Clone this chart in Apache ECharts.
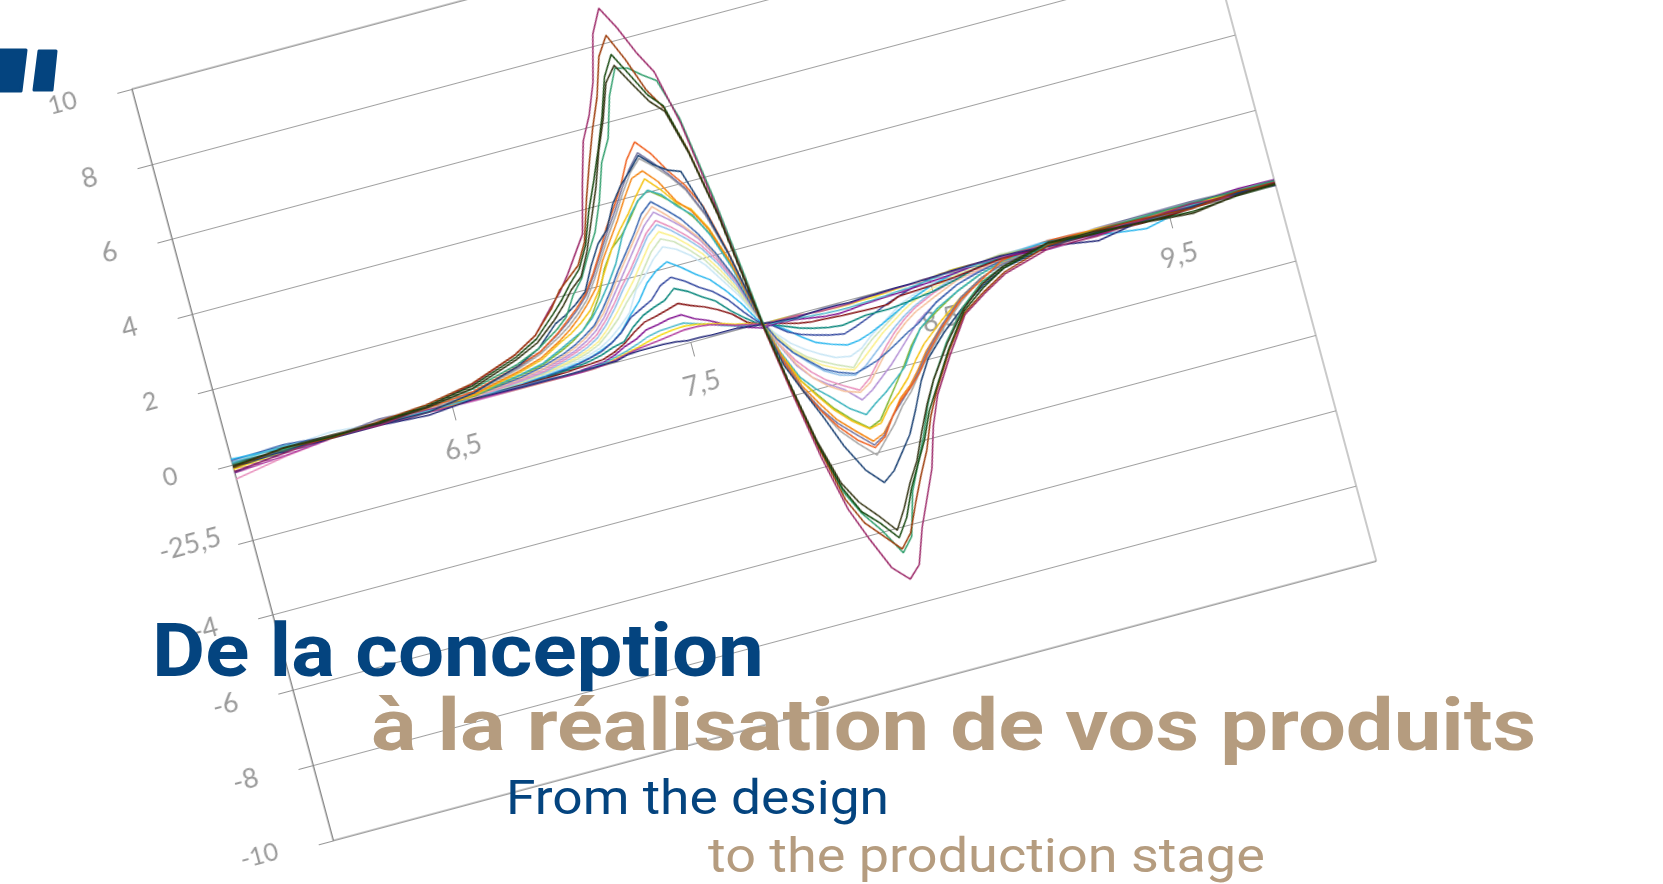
<!DOCTYPE html>
<html>
<head>
<meta charset="utf-8">
<title>De la conception à la réalisation</title>
<script src="https://cdn.jsdelivr.net/npm/echarts@6/dist/echarts.min.js"></script>
<style>
  html, body { margin: 0; width: 1663px; height: 884px; overflow: hidden; background: #fff; }
  #plot { position: absolute; left: 94px; top: -184px; width: 1320px; height: 1018px; transform: rotate(-15deg); }
  #words { position: absolute; left: 0; top: 0; width: 1663px; height: 884px; }
</style>
</head>
<body>
<div id="plot"></div>
<div id="words"></div>
<script>
const xValues = [5.58,5.8,6.0,6.2,6.4, 6.6,6.8,6.9,6.99,7.04, 7.09,7.14,7.19,7.24,7.29, 7.34,7.39,7.44,7.49,7.54, 7.59,7.64,7.69,7.74,7.78, 7.80,7.84,7.89,7.94,7.99, 8.05,8.11,8.16,8.21,8.26, 8.31,8.36,8.41,8.5,8.6, 8.7,8.8,9.0,9.2,9.4, 9.6,9.8,9.95]

const xTicks = [6.5, 7.5, 8.5, 9.5]
const yTicks = [-10, -8, -6, -4, -2, 0, 2, 4, 6, 8, 10]
const yTickLabels = ['-10', '-8', '-6', '-4', '-25,5', '0', '2', '4', '6', '8', '10']
const smallTickLabels = ['-10', '0', '2', '10']

const s01 = [-.18,-.06,.05,.0,.14, .4,.85,1.2,1.8,2.1, 2.5,2.95,3.4,4.6,5.7, 6.3,7.1,8.3,8.9,8.3, 7.55,6.95,5.5,3.2,1.05, -.15,-1.85,-3.75,-5.2,-6.05, -6.95,-7.35,-7.05,-6.15,-5.45, -4.75,-3.7,-2.95,-2.05,-1.15, -.75,-.4,-.05,-.08,.02, .1,.0,.08]
const s02 = [-.08,.08,.0,.1,.2, .42,.85,1.2,1.75,2.15, 2.4,2.65,3.2,4.2,5.1, 5.95,6.7,7.7,8.18,7.45, 6.55,6.0,4.8,3.0,1.0, -.1,-1.7,-3.5,-4.95,-5.65, -6.1,-6.55,-6.2,-5.5,-4.85, -4.25,-3.45,-2.85,-1.95,-1.1, -.7,-.35,.02,.08,.05, -.02,.1,.05]
const s03 = [-.05,.08,.03,.08,.16, .36,.78,1.1,1.6,1.9, 2.25,2.55,3.1,3.95,4.65, 5.4,6.2,7.15,7.67,7.05, 6.42,6.05,4.75,3.0,.95, -.06,-1.6,-3.4,-4.65,-5.35, -5.75,-6.25,-5.8,-5.1,-4.55, -4.0,-3.3,-2.8,-1.9,-1.05, -.6,-.25,.08,.0,-.03, -.1,.0,.02]
const s04 = [-.03,.08,.08,.05,.12, .3,.72,1.0,1.45,1.75, 2.1,2.35,2.95,3.7,4.45, 5.35,6.1,7.0,7.38,6.8, 6.25,5.9,4.7,2.95,.95, -.03,-1.6,-3.3,-4.5,-5.1, -5.55,-6.05,-5.55,-4.95,-4.45, -3.75,-3.1,-2.55,-1.75,-1.0, -.5,-.2,.1,.05,-.05, -.15,.02,.05]
const s05 = [.0,.04,.05,.08,.12, .28,.6,.85,1.2,1.45, 1.95,2.3,2.85,3.35,4.1, 5.05,5.6,6.65,7.3,7.22, 6.95,6.72,5.65,3.45,1.3, .12,-1.6,-3.45,-4.75,-5.4, -5.95,-6.65,-6.3,-5.2,-4.55, -3.9,-3.15,-2.55,-1.7,-.95, -.45,-.2,.03,.08,.1, .12,.12,.12]
const s06 = [.02,.03,.05,.08,.1, .22,.55,.75,1.1,1.35, 1.6,1.9,2.35,2.85,3.4, 3.85,4.35,4.95,5.34,4.95, 4.4,3.95,3.3,2.0,.65, -.08,-1.1,-2.0,-2.6,-3.1, -3.55,-3.85,-3.65,-3.2,-2.85, -2.6,-2.3,-1.9,-1.3,-.75, -.4,-.05,.14,.1,.08, .1,.08,.08]
const s07 = [.03,.03,.02,.16,.1, .22,.52,.75,1.08,1.3, 1.55,1.85,2.3,2.8,3.3, 3.75,4.25,4.7,5.05,4.7, 4.3,3.85,3.1,1.95,.6, -.04,-1.05,-1.95,-2.55,-3.0, -3.4,-3.78,-3.6,-3.2,-2.9, -2.6,-2.25,-1.85,-1.25,-.7, -.35,-.15,.05,.12,.14, .16,.12,.05]
const s08 = [-.08,.0,.03,.03,.0, .18,.55,.85,1.35,1.5, 1.7,1.95,2.55,3.05,3.35, 3.95,4.35,4.65,4.98,4.65, 4.42,4.3,3.25,1.95,.7, -.02,-1.2,-2.0,-2.75,-3.6, -4.35,-4.78,-4.55,-4.15,-3.75, -3.15,-2.5,-2.0,-1.45,-.95, -.55,-.25,.0,.02,.0, .02,.05,.02]
const s09 = [.0,.02,.03,.03,.05, .18,.48,.7,1.0,1.2, 1.45,1.75,2.2,2.7,3.2, 3.65,4.15,4.6,4.9,4.6, 4.25,3.8,3.05,1.9,.6, -.02,-1.05,-1.95,-2.6,-3.2, -3.65,-4.05,-3.72,-3.4,-3.0, -2.7,-2.3,-1.95,-1.35,-.8, -.35,-.12,.05,.05,.05, .08,.05,.05]
const s10 = [.02,.03,.02,.03,.05, .15,.42,.6,.9,1.1, 1.35,1.65,2.0,2.6,3.05, 3.5,4.0,4.45,4.57,4.2, 3.6,3.25,2.65,1.7,.55, .0,-.95,-1.85,-2.4,-2.9, -3.3,-3.68,-3.55,-3.2,-2.8, -2.55,-2.2,-1.8,-1.25,-.75, -.35,-.12,.05,.05,.08, .08,.05,.08]
const s11 = [-.12,.0,.02,.03,.03, .12,.38,.55,.85,1.0, 1.2,1.45,1.85,2.35,2.85, 3.25,3.6,4.0,4.36,4.0, 3.55,3.3,2.7,1.7,.55, .02,-.9,-1.7,-2.2,-2.65, -3.05,-3.35,-3.28,-2.9,-2.65, -2.35,-1.95,-1.6,-1.15,-.7, -.35,-.12,.03,.0,.08, .05,.03,.05]
const s12 = [.03,.03,.03,.03,.03, .12,.32,.45,.7,.85, 1.0,1.25,1.6,2.0,2.45, 3.05,3.5,3.85,4.05,3.85, 3.45,3.15,2.5,1.55,.5, .03,-.85,-1.6,-2.0,-2.3, -2.7,-2.97,-2.75,-2.55,-2.3, -2.05,-1.6,-1.2,-.8,-.5, -.25,-.08,.05,.05,.05, .05,.05,.05]
const s13 = [.02,.02,.02,.03,.03, .1,.3,.42,.65,.8, 1.0,1.3,1.75,2.4,2.85, 3.1,3.45,3.85,4.05,3.8, 3.5,3.1,2.55,1.65,.55, .0,-.9,-1.7,-2.15,-2.6, -3.0,-3.33,-3.2,-2.8,-2.4, -2.0,-1.55,-1.2,-.85,-.5, -.25,-.08,.05,.03,.03, .05,.03,.05]
const s14 = [.1,.16,.05,.03,.03, .1,.25,.38,.55,.68, .85,1.05,1.4,1.8,2.25, 2.65,3.05,3.5,3.75,3.45, 3.12,2.65,2.05,1.3,.42, .04,-.5,-.95,-1.25,-1.55, -1.75,-1.88,-1.8,-1.7,-1.55, -1.38,-1.2,-1.05,-.65,-.35, -.18,-.05,.05,.05,.05, .08,.05,.05]
const s15 = [.02,.02,.02,.02,.03, .08,.22,.32,.5,.62, .78,1.0,1.3,1.72,2.15, 2.55,2.95,3.35,3.62,3.3, 2.95,2.55,2.0,1.3,.42, .02,-.6,-1.25,-1.7,-2.0, -2.25,-2.38,-2.2,-1.85,-1.5, -1.2,-.95,-.75,-.5,-.25, -.12,-.02,.05,.05,.05, .05,.05,.05]
const s16 = [.02,.02,.02,.02,.02, .08,.2,.3,.45,.55, .7,.9,1.2,1.6,2.0, 2.4,2.8,3.2,3.47,3.2, 2.9,2.5,1.95,1.25,.4, .0,-.65,-1.3,-1.7,-1.95, -2.2,-2.58,-2.4,-2.15,-1.9, -1.6,-1.3,-1.0,-.65,-.35, -.15,-.03,.05,.05,.05, .05,.05,.05]
const s17 = [-.38,-.14,.0,.02,.02, .06,.17,.25,.4,.5, .62,.8,1.1,1.45,1.85, 2.2,2.6,3.0,3.25,3.0, 2.7,2.35,1.85,1.2,.38, .03,-.6,-1.15,-1.55,-1.85, -2.1,-2.32,-2.1,-1.75,-1.4, -1.1,-.85,-.65,-.4,-.2, -.08,.0,.05,.05,.05, .05,.05,.05]
const s18 = [.02,.02,.02,.02,.02, .05,.15,.22,.35,.43, .55,.72,1.0,1.35,1.75, 2.1,2.5,2.9,3.14,2.9, 2.6,2.25,1.75,1.1,.35, .05,-.5,-.95,-1.3,-1.6, -1.82,-1.92,-1.75,-1.5,-1.25, -1.0,-.78,-.6,-.35,-.15, -.05,.08,.14,.1,.08, .05,.05,.05]
const s19 = [.02,.02,.02,.02,.02, .05,.13,.2,.3,.38, .48,.62,.88,1.2,1.55, 1.9,2.3,2.7,2.95,2.75, 2.45,2.1,1.6,1.0,.32, .04,-.45,-.9,-1.2,-1.45, -1.65,-1.78,-1.55,-1.3,-1.05, -.85,-.65,-.48,-.28,-.12, -.03,.03,.05,.05,.05, .05,.05,.05]
const s20 = [.02,.02,.03,.03,.02, .04,.12,.18,.27,.33, .42,.55,.78,1.05,1.4, 1.7,2.1,2.5,2.76,2.6, 2.3,1.95,1.45,.9,.3, .03,-.4,-.85,-1.15,-1.35, -1.55,-1.72,-1.4,-1.15,-.95, -.75,-.55,-.4,-.2,-.08, .02,.12,.05,.05,.05, .05,.05,.05]
const s21 = [.02,.08,.16,.05,.02, .03,.1,.15,.22,.27, .35,.45,.62,.85,1.12, 1.65,1.95,2.3,2.55,2.4, 2.15,1.8,1.3,.8,.25, .02,-.35,-.7,-.95,-1.15, -1.35,-1.42,-1.3,-1.05,-.85, -.65,-.45,-.33,-.15,-.05, .02,.05,.05,.05,.05, .05,.05,.05]
const s22 = [.15,.08,.03,.02,.02, .03,.08,.12,.18,.22, .28,.38,.5,.72,1.05, 1.35,1.75,2.0,2.15,1.92, 1.65,1.42,1.05,.6,.15, -.02,-.12,-.35,-.62,-.85, -1.0,-1.12,-1.08,-.98,-.85, -.7,-.55,-.4,-.2,-.05, .02,.05,.12,-.05,-.22, .05,.08,.05]
const s23 = [.02,.02,.03,.02,.02, .02,.06,.1,.15,.2, .27,.35,.5,.7,1.0, 1.15,1.3,1.6,1.74,1.55, 1.3,1.1,.8,.38,.08, -.02,-.15,-.4,-.55,-.65, -.75,-.82,-.72,-.6,-.48, -.35,-.25,-.15,-.02,.05, .05,.05,.05,.05,.08, .1,.1,.12]
const s24 = [.02,.02,.02,.02,.02, .02,.05,.08,.12,.15, .2,.27,.38,.45,.75, .97,1.1,1.2,1.44,1.28, 1.05,.85,.5,.22,.02, -.02,-.12,-.25,-.38,-.47, -.55,-.6,-.55,-.5,-.5, -.5,-.47,-.43,-.36,-.22, -.05,.03,.05,.05,.05, .05,.05,.05]
const s25 = [.0,.02,.02,.02,.02, .02,.05,.06,.08,.1, .12,.15,.25,.4,.62, .8,.87,.95,1.04,.9, .78,.62,.42,.12,.0, -.03,-.08,-.17,-.25,-.3, -.32,-.35,-.36,-.37,-.38, -.38,-.25,-.23,-.2,-.15, -.07,.0,.02,-.02,-.06, -.02,.05,.08]
const s26 = [.0,.02,.02,.02,.05, .03,.03,.02,.0,.02, .05,.08,.18,.33,.43, .6,.65,.72,.74,.55, .42,.25,.1,-.02,-.1, -.14,-.1,-.12,-.15,-.2, -.26,-.28,-.26,-.22,-.2, -.18,-.17,-.15,-.1,-.05, .02,.05,-.08,-.05,.05, .1,.17,.15]
const s27 = [.05,.12,.02,.02,.03, .03,.02,.02,.0,.0, .02,.05,.12,.2,.3, .42,.48,.5,.52,.42, .32,.2,.1,.02,-.03, -.1,-.08,-.1,-.12,-.15, -.18,-.2,-.2,-.18,-.17, -.15,-.12,-.1,-.05,.02, .02,.05,.05,.02,.08, .05,.05,.05]
const s28 = [-.1,.0,.0,.02,.0, .0,-.02,-.02,-.03,-.02, -.02,.0,.08,.15,.22, .3,.37,.42,.44,.4, .33,.25,.15,.08,.0, -.08,-.03,-.03,-.05,-.08, -.1,-.12,-.12,-.1,-.1, -.08,-.05,-.03,.0,.05, .05,.08,.05,.1,.05, .1,.05,.05]
const s29 = [-.22,-.12,.0,.0,.0, -.02,-.02,-.02,-.03,-.03, -.02,.0,.05,.12,.18, .22,.26,.3,.35,.34, .3,.22,.12,.05,.0, -.1,-.05,-.05,-.05,-.08, -.1,-.1,-.1,-.08,-.05, -.05,-.03,-.03,.0,.02, .05,.05,.05,.02,.05, .02,.05,.05]
const s30 = [-.2,-.04,.0,.0,-.08, .03,.0,.0,.0,.0, .0,.02,.02,.1,.12, .12,.12,.1,.05,.05, .03,.03,.03,.0,-.03, -.02,-.06,-.08,-.1,-.08, -.06,-.06,-.08,-.05,-.05, -.03,-.02,-.02,.0,.03, .05,.08,.0,-.2,.02, .02,.08,.0]

const allSeries = [s21, s20, s19, s18, s17, s16, s15, s14, s13, s12, s11, s10, s09, s07, s06, s22, s23, s24, s25, s26, s27, s28, s29, s30, s08, s05, s01, s02, s03, s04]
const allColors = ['#c8e6f5', '#cde3b8', '#fbf08a', '#8fc0ea', '#e88fbc', '#b491d6', '#f5c09b', '#3a66b0', '#7fb52e', '#38b2bc', '#f5c210', '#f58512', '#a5a5a5', '#74749f', '#f0601f', '#29b6ee', '#33489f', '#06857a', '#851212', '#821290', '#4fbacc', '#f5da12', '#b23ea0', '#232878', '#183f72', '#2f9e6b', '#9c2868', '#9c3a08', '#14460c', '#333312']

const axisGray = '#a0a0a0'
const labelStyle = { fontFamily: 'Lato', fontSize: 27, color: '#9b9b9b' }

const plot = echarts.init(document.getElementById('plot'))
plot.setOption({
  animation: false,
  grid: [
    { left: 120, right: 120, top: 120, bottom: 120, show: true, borderColor: '#949494', borderWidth: 1 },
    // upper half only, so the x labels hang under the zero line
    { left: 120, right: 120, top: 120, bottom: 509 }
  ],
  xAxis: [
    { type: 'value', gridIndex: 0, min: 5.58, max: 9.95, show: false },
    {
      type: 'value',
      gridIndex: 1,
      min: 5.58,
      max: 9.95,
      splitLine: { show: false },
      axisLine: { onZero: false, lineStyle: { color: axisGray } },
      axisTick: { length: 15, lineStyle: { color: '#949494' }, customValues: xTicks },
      axisLabel: {
        ...labelStyle,
        customValues: xTicks,
        margin: 30,
        formatter: v => String(v).replace('.', ',')
      }
    }
  ],
  yAxis: [
    {
      type: 'value',
      gridIndex: 0,
      min: -10,
      max: 10,
      interval: 2,
      axisLine: { show: true, lineStyle: { color: '#868686' } },
      axisTick: { show: true, length: 15, lineStyle: { color: '#949494' } },
      splitLine: { lineStyle: { color: axisGray, width: 1 } },
      axisLabel: {
        ...labelStyle,
        margin: 56,
        rich: {
          tall: { fontFamily: 'Lato', fontSize: 27, color: '#9b9b9b', padding: [0, 0, 6, 0] },
          small: { fontFamily: 'Lato', fontSize: 25, color: '#9b9b9b', padding: [0, 0, 8, 0] },
          shifted: { fontFamily: 'Lato', fontSize: 27, color: '#9b9b9b', padding: [0, -26, 24, 0] }
        },
        formatter: v => {
          const label = yTickLabels[yTicks.indexOf(v)]
          if (smallTickLabels.includes(label)) return `{small|${label}}`
          if (label === '-25,5') return `{shifted|${label}}`
          return `{tall|${label}}`
        }
      }
    },
    { type: 'value', gridIndex: 1, min: 0, max: 10, show: false }
  ],
  series: allSeries.map((vals, i) => ({
    type: 'line',
    symbol: 'none',
    data: xValues.map((x, j) => [x, vals[j]]),
    lineStyle: { color: allColors[i], width: 1.5 }
  }))
})

const blue = '#04447f'
const tan = '#b59c7f'
const words = echarts.init(document.getElementById('words'))
words.setOption({
  animation: false,
  graphic: [
    { type: 'polygon', shape: { points: [[-10, 50], [26, 50], [21, 91], [-10, 91]] }, style: { fill: blue, stroke: blue, lineWidth: 3, lineJoin: 'round' } },
    { type: 'polygon', shape: { points: [[39, 51], [56, 51], [52, 90], [34, 90]] }, style: { fill: blue, stroke: blue, lineWidth: 3, lineJoin: 'round' } },
    { type: 'text', x: 152, y: 695, scaleX: 1.09, style: { text: 'De la conception', fill: blue, font: 'bold 75px Roboto', textVerticalAlign: 'bottom' } },
    { type: 'text', x: 371, y: 768, scaleX: 1.18, style: { text: 'à la réalisation de vos produits', fill: tan, font: 'bold 72px Roboto', textVerticalAlign: 'bottom' } },
    { type: 'text', x: 506, y: 826, scaleX: 1.11, style: { text: 'From the design', fill: blue, font: '400 48px Roboto', textVerticalAlign: 'bottom' } },
    { type: 'text', x: 708, y: 884, scaleX: 1.125, style: { text: 'to the production stage', fill: tan, font: '400 48px Roboto', textVerticalAlign: 'bottom' } }
  ]
})
</script>
</body>
</html>
